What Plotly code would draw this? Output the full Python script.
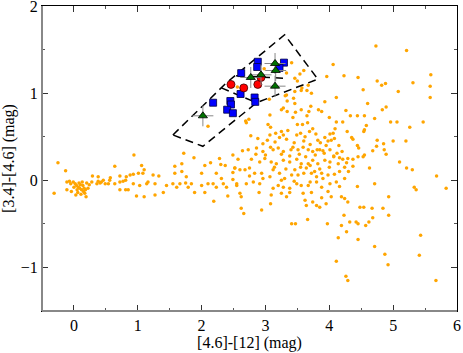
import plotly.graph_objects as go

# field sources (orange)
field_x = [
    -0.25, -0.13, -0.31, 0.94, 0.64, 0.29, 1.72, 1.88, 2.28, 2.14, 1.58, 1.69, 1.06, 1.10, 2.05, 2.30, 2.37, 2.52,
    0.72, 0.82, 0.88, 0.93, 1.01, 1.08, 1.24, 1.33, 1.58, 1.69, 1.76, 2.00, 2.23, 2.31, 2.49, 0.57, 0.46, 0.38,
    0.36, 0.41, 0.24, 0.20,
    -0.01, 0.02, 0.04, 0.07, 0.09, 0.12, 0.15, 0.17, 0.08, 0.14, 0.05, 0.16, 0.19, 0.03, -0.11, -0.05, -0.11, -0.04,
    0.22, -0.07, 0.10, 0.13, 0.06, 0.11, 0.18, 0.00,
    0.72, 0.77, 0.81, 0.85, 0.98, 1.10, 0.93, 1.03, 1.14, 1.16, 1.27, 1.27, 1.40, 1.45, 1.55, 1.61, 1.66, 1.75,
    1.79, 1.84, 1.89, 2.00, 2.05, 2.10, 2.18, 2.23, 2.34, 2.39, 2.49, 2.55, 2.19, 2.41, 0.38, 0.43, 0.56, 0.54,
    0.72, 0.81, 0.64, 0.49, 0.28,
    3.41, 4.06, 3.33, 3.54, 3.96, 4.23, 4.45, 4.75, 4.88, 4.82, 5.31, 5.59, 5.58, 5.58, 4.53, 5.08, 2.56, 3.67,
    3.56, 3.65, 3.46, 3.33, 3.44, 3.46, 3.34, 3.06, 3.25, 3.28, 3.71, 3.56, 3.68, 3.93, 4.11, 4.60, 4.89, 4.83,
    4.26, 3.83, 3.88, 3.07, 3.43, 3.65, 4.33, 4.44, 4.55, 4.71, 2.69, 2.74, 2.70, 3.04, 3.08, 3.50, 3.66, 4.00,
    4.11, 4.21, 4.58, 4.96, 5.06, 5.47, 5.26, 4.55, 4.54, 4.28, 4.09, 3.74, 3.69, 3.58, 3.25, 3.35, 3.16, 3.07,
    2.77, 2.88, 2.96, 3.03, 3.22, 3.28, 3.49, 3.55, 3.62, 3.79, 3.82, 3.93, 4.01, 4.06, 4.08, 4.03, 4.35, 4.37,
    4.75, 4.85, 5.00, 5.20, 4.44, 4.46, 4.74, 4.86, 4.89, 4.68, 4.55, 4.53, 4.45, 4.37, 4.29, 4.21, 4.16, 4.12,
    4.07, 4.01, 3.95, 3.90, 3.85, 3.81, 3.74, 3.67, 3.59, 3.51, 3.43, 3.40, 3.28, 3.20, 3.12, 3.08, 2.96, 2.86,
    2.73, 2.64, 2.49, 2.57, 2.78, 2.91, 2.99, 3.09, 3.17, 3.28, 3.38, 3.49, 3.56, 3.67, 3.74, 3.82, 3.93, 4.01,
    4.07, 4.14, 4.27, 4.24, 4.37, 4.63, 5.10, 5.21, 5.30, 5.68, 5.83, 2.52, 2.60, 2.68, 2.75, 2.83, 2.94, 2.96,
    3.07, 3.12, 3.22, 3.30, 3.41, 3.46, 3.51, 3.60, 3.64, 3.72, 3.77, 3.80, 3.88, 3.90, 3.98, 4.08, 4.16, 4.24,
    2.55, 2.70, 2.81, 2.91, 3.12, 3.20, 3.28, 3.38, 3.49, 3.56, 3.67, 3.80, 3.88, 4.01, 4.11, 4.16, 4.44, 4.71,
    2.60, 2.62, 2.90, 3.09, 3.25, 3.33, 3.38, 3.59, 3.72, 3.88, 3.98, 4.03, 4.19, 4.24, 4.29, 3.74, 3.62, 3.64,
    3.80, 3.85, 3.95, 3.08, 2.94, 2.62, 2.66, 4.48, 4.54, 4.67, 4.84, 4.93, 4.68, 4.23, 3.41, 3.47, 3.66, 3.97,
    4.19, 4.32, 4.42, 4.45, 4.57, 4.27, 4.14, 4.45, 5.43,
    4.11, 4.26, 4.29, 4.87, 4.92, 4.71, 5.41, 5.67, 5.33, 5.36, 4.93, 4.62,
    2.98, 3.46, 3.50, 3.31, 3.57, 3.72, 3.47, 3.34, 3.60, 2.10, 4.73, 5.21,
    3.15, 3.33, 3.45, 3.60, 3.70, 3.86, 3.98, 4.15, 3.25, 3.38, 3.53, 3.63, 3.78, 3.92, 4.20, 3.00, 2.85, 3.14,
    3.32, 3.55, 3.70, 3.85, 4.00, 4.30, 2.75, 3.25, 3.45, 3.70,
]
field_y = [
    0.20, 0.11, -0.15, 0.29, 0.16, 0.05, 0.31, 0.26, 0.25, 0.20, 0.16, 0.19, 0.17, 0.12, 0.17, 0.18, 0.17, 0.14,
    0.05, 0.04, 0.06, 0.07, 0.08, 0.08, 0.06, 0.05, 0.08, 0.10, 0.04, 0.08, 0.08, 0.02, 0.09, 0.03, 0.00, -0.01,
    -0.04, -0.03, -0.05, -0.03,
    -0.02, -0.04, -0.06, -0.08, -0.09, -0.11, -0.13, -0.15, -0.03, -0.06, -0.11, -0.09, -0.19, -0.17, -0.02, -0.04,
    -0.11, -0.13, -0.09, -0.01, -0.05, -0.02, -0.14, -0.16, -0.11, -0.08,
    -0.02, -0.01, 0.00, -0.11, -0.18, -0.19, -0.04, -0.06, -0.04, -0.02, -0.04, -0.17, -0.14, -0.06, -0.04, -0.08,
    -0.04, -0.03, -0.08, -0.04, -0.14, -0.06, -0.14, -0.04, -0.04, -0.08, -0.04, -0.08, 0.01, -0.04, -0.24, -0.18,
    0.04, -0.02, 0.00, -0.04, -0.11, -0.11, -0.04, -0.04, -0.02,
    1.35, 1.33, 1.23, 1.22, 1.19, 1.20, 1.18, 1.14, 1.11, 1.09, 1.12, 1.21, 1.08, 0.95, 1.04, 1.02, 1.07, 1.09,
    1.03, 1.03, 1.02, 0.98, 0.94, 0.88, 0.91, 0.93, 0.81, 0.83, 0.85, 0.81, 0.79, 0.90, 0.95, 0.88, 0.84, 0.81,
    0.80, 0.81, 0.79, 0.75, 0.72, 0.74, 0.74, 0.74, 0.74, 0.71, 0.68, 0.70, 0.66, 0.64, 0.61, 0.64, 0.66, 0.72,
    0.67, 0.67, 0.63, 0.67, 0.67, 0.67, 0.61, 0.58, 0.56, 0.56, 0.59, 0.59, 0.56, 0.64, 0.56, 0.57, 0.54, 0.52,
    0.51, 0.48, 0.42, 0.46, 0.49, 0.52, 0.52, 0.54, 0.50, 0.53, 0.46, 0.49, 0.53, 0.54, 0.48, 0.46, 0.49, 0.47,
    0.46, 0.42, 0.45, 0.45, 0.40, 0.37, 0.39, 0.35, 0.30, 0.34, 0.29, 0.27, 0.27, 0.24, 0.25, 0.24, 0.26, 0.31,
    0.28, 0.35, 0.40, 0.34, 0.35, 0.35, 0.33, 0.35, 0.38, 0.35, 0.38, 0.35, 0.33, 0.37, 0.35, 0.38, 0.33, 0.37,
    0.35, 0.34, 0.29, 0.24, 0.24, 0.21, 0.25, 0.21, 0.19, 0.23, 0.21, 0.24, 0.19, 0.19, 0.23, 0.19, 0.23, 0.21,
    0.27, 0.19, 0.20, 0.15, 0.16, 0.14, 0.21, 0.14, 0.12, 0.05, -0.09, 0.14, 0.12, 0.12, 0.14, 0.08, 0.08, 0.02,
    0.04, 0.12, 0.08, 0.02, 0.06, 0.12, 0.06, 0.08, 0.14, 0.08, 0.10, 0.04, 0.08, 0.02, 0.06, 0.07, 0.10, 0.02,
    -0.06, -0.04, -0.02, -0.04, -0.09, -0.06, -0.08, -0.09, -0.04, -0.06, -0.06, -0.02, -0.08, -0.04, -0.02, -0.07,
    -0.07, -0.04,
    -0.15, -0.19, -0.14, -0.17, -0.15, -0.19, -0.14, -0.15, -0.14, -0.20, -0.13, -0.19, -0.19, -0.21, -0.25, -0.25,
    -0.23, -0.29, -0.29, -0.31, -0.27, -0.27, -0.34, -0.32, -0.38, -0.31, -0.31, -0.32, -0.32, -0.40, -0.43, -0.40,
    -0.50, -0.50, -0.45, -0.50, -0.52, -0.48, -0.48, -0.50, -0.52, -0.59, -0.66, -0.68, -0.63,
    -0.93, -1.10, -1.15, -0.85, -0.97, -0.76, -0.86, -1.15, -0.08, -0.11, -0.19, -0.48,
    1.28, 1.17, 1.14, 0.97, 1.06, 1.00, 0.78, 0.79, 1.26, 0.62, 1.54, 1.49,
    0.44, 0.47, 0.43, 0.45, 0.41, 0.43, 0.45, 0.40, 0.30, 0.28, 0.30, 0.27, 0.29, 0.31, 0.33, 0.29, 0.30, 0.15,
    0.13, 0.15, 0.17, 0.13, 0.15, 0.10, 0.05, 0.00, -0.01, -0.02,
]

# selected objects
sq_x = [2.88, 2.87, 3.29, 3.22, 2.62, 2.61, 2.83, 2.84, 2.18, 2.45, 2.46, 2.40, 2.49]
sq_y = [1.36, 1.30, 1.35, 1.29, 1.23, 0.99, 0.95, 0.90, 0.89, 0.91, 0.87, 0.81, 0.77]
circ_x = [2.46, 2.66, 2.88, 2.93]
circ_y = [1.10, 1.06, 1.10, 1.18]
star_x = [3.15, 3.16, 2.93, 2.77, 3.15, 2.02]
star_y = [1.34, 1.26, 1.21, 1.18, 1.08, 0.74]

# dashed region boundaries
box_x = [1.55, 2.31, 2.39, 3.30, 3.82, 2.86, 2.02, 1.55]
box_y = [0.52, 1.06, 1.12, 1.67, 1.16, 0.89, 0.39, 0.52]
split_x = [2.31, 2.86, None, 2.54, 3.29]
split_y = [1.06, 0.89, None, 1.20, 1.17]

fig = go.Figure()
fig.add_trace(go.Scatter(x=field_x, y=field_y, mode='markers',
                         marker=dict(color='#FFA500', size=3.5), showlegend=False))
fig.add_trace(go.Scatter(x=box_x, y=box_y, mode='lines',
                         line=dict(color='black', width=1.5, dash='8px,5px'), showlegend=False))
fig.add_trace(go.Scatter(x=split_x, y=split_y, mode='lines',
                         line=dict(color='black', width=1.5, dash='8px,5px'), showlegend=False))
fig.add_trace(go.Scatter(x=sq_x, y=sq_y, mode='markers',
                         marker=dict(symbol='square', color='#0000FF', size=7,
                                     line=dict(color='#000040', width=0.8)), showlegend=False))
fig.add_trace(go.Scatter(x=circ_x, y=circ_y, mode='markers',
                         marker=dict(symbol='circle', color='#FF0000', size=8,
                                     line=dict(color='#400000', width=0.8)), showlegend=False))
fig.add_trace(go.Scatter(x=star_x, y=star_y, mode='markers',
                         marker=dict(symbol='cross-thin', size=15,
                                     line=dict(color='#888888', width=1)), showlegend=False))
fig.add_trace(go.Scatter(x=star_x, y=star_y, mode='markers',
                         marker=dict(symbol='triangle-up', color='#007000', size=8,
                                     line=dict(color='black', width=0.8)), showlegend=False))

axis_font = dict(family='Liberation Serif', size=16, color='black')
fig.update_xaxes(range=[-0.5, 6], dtick=1, tick0=0, ticks='inside', ticklen=6, tickcolor='#333333',
                 minor=dict(dtick=0.5, ticks='inside', ticklen=3, tickcolor='#555555'),
                 showgrid=False, zeroline=False, showline=True, linecolor='black', linewidth=1,
                 mirror='allticks', tickfont=axis_font, ticklabeloverflow='allow',
                 title=dict(text='[4.6]-[12] (mag)', font=axis_font, standoff=2))
fig.update_yaxes(range=[-1.5, 2], dtick=1, tick0=0, ticks='inside', ticklen=6, tickcolor='#333333',
                 minor=dict(dtick=0.5, ticks='inside', ticklen=3, tickcolor='#555555'),
                 showgrid=False, zeroline=False, showline=True, linecolor='black', linewidth=1,
                 mirror='allticks', tickfont=axis_font, ticklabeloverflow='allow',
                 title=dict(text='[3.4]-[4.6] (mag)', font=axis_font, standoff=4))

# grey left and bottom axis lines
fig.add_shape(type='line', xref='paper', yref='paper', x0=0, x1=0, y0=0, y1=1,
              line=dict(color='#888888', width=2))
fig.add_shape(type='line', xref='paper', yref='paper', x0=0, x1=1, y0=0, y1=0,
              line=dict(color='#888888', width=2))

fig.update_layout(width=463, height=353, margin=dict(l=42, r=6, t=6, b=42, autoexpand=False),
                  plot_bgcolor='white', paper_bgcolor='white',
                  font=dict(family='Liberation Serif'))
fig.write_html("out.html", config={'displayModeBar': False},
               post_script="document.body.style.margin='0px';")
